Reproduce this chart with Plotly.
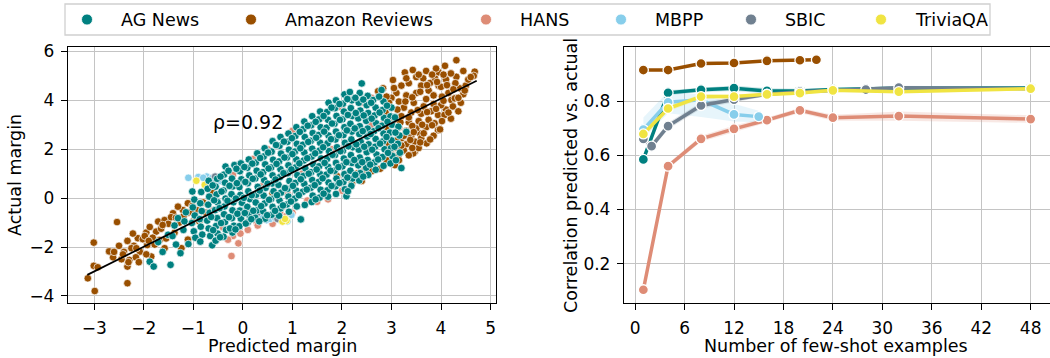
import plotly.graph_objects as go

W, H = 1050, 358

# ---------------- left panel: per-example margins ----------------
ag_news_pts = [
    (-1.02, 0.27), (-0.98, -0.06), (-1.01, -0.38), (-0.97, -0.71), (-1.03, -1.02), (-0.99, -1.36), (-0.96, -1.62),
    (-0.84, 0.25), (-0.86, -0.21), (-0.83, -0.53), (-0.87, -0.86), (-0.85, -1.17), (-0.82, -1.49), (-0.86, -1.78),
    (-0.69, 0.71), (-0.71, 0.38), (-0.68, 0.06), (-0.70, -0.27), (-0.67, -0.60), (-0.72, -0.92), (-0.69, -1.24), (-0.66, -1.55), (-0.62, -1.93),
    (-0.52, 0.79), (-0.55, 0.47), (-0.53, 0.15), (-0.51, -0.17), (-0.56, -0.49), (-0.52, -0.82), (-0.54, -1.14), (-0.51, -1.45), (-0.55, -1.74),
    (-0.35, 1.29), (-0.38, 0.96), (-0.36, 0.63), (-0.39, 0.31), (-0.35, -0.02), (-0.37, -0.34), (-0.38, -0.66), (-0.36, -0.98), (-0.34, -1.30), (-0.39, -1.58),
    (-0.17, 1.35), (-0.22, 0.80), (-0.20, 0.48), (-0.23, 0.16), (-0.19, -0.17), (-0.21, -0.50), (-0.22, -0.82), (-0.18, -1.13), (-0.21, -1.41),
    (-0.04, 1.42), (-0.06, 1.10), (-0.03, 0.77), (-0.07, 0.45), (-0.05, 0.13), (-0.02, -0.19), (-0.06, -0.51), (-0.04, -0.84), (-0.07, -1.15),
    (0.12, 1.58), (0.09, 1.24), (0.13, 0.93), (0.10, 0.61), (0.11, 0.28), (0.14, -0.04), (0.09, -0.36), (0.12, -0.68), (0.10, -0.99),
    (0.29, 1.83), (0.26, 1.45), (0.28, 1.12), (0.25, 0.80), (0.30, 0.46), (0.27, 0.14), (0.26, -0.18), (0.29, -0.50), (0.25, -0.80),
    (0.44, 2.04), (0.42, 1.70), (0.45, 1.38), (0.41, 1.06), (0.43, 0.74), (0.46, 0.42), (0.42, 0.10), (0.44, -0.22), (0.41, -0.54), (0.45, -0.84),
    (0.60, 2.33), (0.58, 1.90), (0.61, 1.57), (0.57, 1.25), (0.60, 0.93), (0.59, 0.60), (0.62, 0.28), (0.57, -0.04), (0.60, -0.36), (0.58, -0.68),
    (0.76, 2.50), (0.74, 2.14), (0.77, 1.82), (0.73, 1.50), (0.76, 1.18), (0.75, 0.86), (0.72, 0.54), (0.77, 0.22), (0.74, -0.10), (0.76, -0.42), (0.73, -0.72),
    (0.92, 2.64), (0.90, 2.30), (0.93, 1.98), (0.89, 1.66), (0.92, 1.34), (0.91, 1.02), (0.94, 0.70), (0.90, 0.38), (0.92, 0.06), (0.89, -0.26), (0.93, -0.56),
    (1.08, 2.90), (1.06, 2.54), (1.09, 2.22), (1.05, 1.90), (1.08, 1.58), (1.07, 1.26), (1.10, 0.94), (1.06, 0.62), (1.08, 0.30), (1.05, -0.02), (1.09, -0.34), (1.17, -0.87),
    (1.24, 3.13), (1.22, 2.82), (1.25, 2.50), (1.21, 2.18), (1.24, 1.86), (1.23, 1.54), (1.26, 1.22), (1.22, 0.90), (1.24, 0.58), (1.21, 0.26), (1.25, -0.28),
    (1.40, 3.35), (1.38, 2.98), (1.41, 2.66), (1.37, 2.34), (1.40, 2.02), (1.39, 1.70), (1.42, 1.38), (1.38, 1.06), (1.40, 0.74), (1.37, 0.42), (1.41, 0.10), (1.39, -0.16),
    (1.56, 3.54), (1.54, 3.22), (1.57, 2.90), (1.53, 2.58), (1.56, 2.26), (1.55, 1.94), (1.58, 1.62), (1.54, 1.30), (1.56, 0.98), (1.53, 0.66), (1.57, 0.34), (1.55, 0.02),
    (1.73, 3.90), (1.70, 3.52), (1.72, 3.20), (1.69, 2.88), (1.73, 2.56), (1.71, 2.24), (1.74, 1.92), (1.70, 1.60), (1.72, 1.28), (1.69, 0.96), (1.73, 0.64), (1.71, 0.32), (1.72, 0.06),
    (1.88, 4.00), (1.86, 3.68), (1.89, 3.36), (1.85, 3.04), (1.88, 2.72), (1.87, 2.40), (1.90, 2.08), (1.86, 1.76), (1.88, 1.44), (1.85, 1.12), (1.89, 0.80), (1.87, 0.48), (1.88, 0.17),
    (2.05, 4.24), (2.02, 3.86), (2.04, 3.54), (2.01, 3.22), (2.05, 2.90), (2.03, 2.58), (2.06, 2.26), (2.02, 1.94), (2.04, 1.62), (2.01, 1.30), (2.05, 0.98), (2.03, 0.66), (2.06, 0.36), (2.09, 0.08),
    (2.16, 4.34), (2.20, 4.00), (2.18, 3.68), (2.21, 3.36), (2.17, 3.04), (2.20, 2.72), (2.19, 2.40), (2.22, 2.08), (2.18, 1.76), (2.20, 1.44), (2.17, 1.12), (2.21, 0.80), (2.19, 0.50),
    (2.36, 4.30), (2.34, 3.90), (2.37, 3.58), (2.33, 3.26), (2.36, 2.94), (2.35, 2.62), (2.38, 2.30), (2.34, 1.98), (2.36, 1.66), (2.33, 1.34), (2.37, 1.02), (2.35, 0.72),
    (2.52, 4.18), (2.50, 3.80), (2.53, 3.48), (2.49, 3.16), (2.52, 2.84), (2.51, 2.52), (2.54, 2.20), (2.50, 1.88), (2.52, 1.56), (2.49, 1.24), (2.53, 0.95),
    (2.63, 4.01), (2.68, 3.70), (2.66, 3.38), (2.69, 3.06), (2.65, 2.74), (2.68, 2.42), (2.67, 2.10), (2.70, 1.78), (2.66, 1.46), (2.68, 1.16),
    (2.80, 4.42), (2.84, 3.95), (2.82, 3.60), (2.85, 3.28), (2.81, 2.96), (2.84, 2.64), (2.83, 2.32), (2.86, 2.00), (2.82, 1.68), (2.84, 1.32),
    (3.00, 3.70), (2.98, 3.34), (3.01, 3.00), (2.97, 2.68), (3.00, 2.36), (2.99, 2.04), (3.02, 1.72), (2.98, 1.42),
    (3.14, 2.92), (3.16, 2.56), (3.13, 2.22), (3.17, 1.86), (3.20, 1.23), (3.30, 2.71), (2.40, 4.69),
    (-1.71, -1.80), (-1.88, -2.60), (-1.80, -2.80), (-1.46, -2.73), (-1.51, -1.50), (-1.31, -0.82), (-1.20, -1.30),
    (-1.35, -1.90), (-1.15, -0.58), (-1.26, -2.25), (-1.10, -1.88), (-1.62, -2.20), (-1.42, -1.55), (-1.18, -0.95), (-1.38, -1.12),
    (-0.61, 0.52), (-0.58, -0.09), (-0.64, -0.77), (-0.60, -1.31),
    (-0.45, 0.88), (-0.43, 0.27), (-0.47, -0.41), (-0.44, -1.02), (-0.46, -1.60),
    (-0.29, 1.12), (-0.27, 0.50), (-0.31, -0.11), (-0.28, -0.78), (-0.26, -1.24),
    (-0.13, 1.20), (-0.12, 0.61), (-0.14, -0.02), (-0.11, -0.64), (-0.15, -1.28),
    (0.03, 1.27), (0.05, 0.66), (0.02, 0.01), (0.04, -0.61), (0.06, -1.04),
    (0.19, 1.41), (0.20, 0.79), (0.18, 0.12), (0.21, -0.52), (0.17, -0.86),
    (0.35, 1.64), (0.36, 0.97), (0.34, 0.31), (0.37, -0.33), (0.33, -0.95),
    (0.51, 1.86), (0.52, 1.21), (0.50, 0.59), (0.53, -0.07), (0.49, -0.70),
    (0.67, 2.17), (0.68, 1.40), (0.66, 0.76), (0.69, 0.12), (0.65, -0.52),
    (0.83, 2.31), (0.84, 1.66), (0.82, 1.02), (0.85, 0.41), (0.81, -0.30),
    (0.99, 2.45), (1.00, 1.80), (0.98, 1.17), (1.01, 0.50), (0.97, -0.14),
    (1.15, 2.71), (1.16, 2.04), (1.14, 1.42), (1.17, 0.77), (1.13, 0.12),
    (1.31, 2.96), (1.32, 2.30), (1.30, 1.63), (1.33, 1.00), (1.29, 0.35),
    (1.47, 3.12), (1.48, 2.47), (1.46, 1.83), (1.49, 1.17), (1.45, 0.53), (1.47, -0.05),
    (1.63, 3.36), (1.64, 2.72), (1.62, 2.08), (1.65, 1.44), (1.61, 0.81), (1.63, 0.18),
    (1.79, 3.70), (1.80, 3.05), (1.78, 2.41), (1.81, 1.77), (1.77, 1.12), (1.79, 0.50),
    (1.95, 3.85), (1.96, 3.20), (1.94, 2.57), (1.97, 1.92), (1.93, 1.27), (1.95, 0.62),
    (2.11, 4.05), (2.12, 3.40), (2.10, 2.77), (2.13, 2.12), (2.09, 1.47), (2.11, 0.84), (2.12, 0.28),
    (2.27, 4.10), (2.28, 3.48), (2.26, 2.85), (2.29, 2.20), (2.25, 1.56), (2.27, 0.95),
    (2.43, 4.03), (2.44, 3.38), (2.42, 2.74), (2.45, 2.10), (2.41, 1.47), (2.43, 0.88),
    (2.59, 3.90), (2.60, 3.25), (2.58, 2.62), (2.61, 1.98), (2.57, 1.37),
    (2.75, 4.15), (2.76, 3.50), (2.74, 2.86), (2.77, 2.23), (2.73, 1.58),
    (2.91, 3.78), (2.92, 3.12), (2.90, 2.50), (2.93, 1.85),
    (3.07, 3.30), (3.08, 2.68), (3.06, 2.10), (3.09, 1.55),
]

amazon_pts = [
    (-3.13, -3.28), (-3.01, -1.82), (-3.01, -2.77), (-2.93, -2.83), (-2.99, -3.80), (-2.54, -0.98), (-2.62, -2.42),
    (-2.70, -2.18), (-2.33, -1.75), (-2.33, -3.48), (-2.40, -2.20), (-2.29, -2.53), (-2.33, -2.80), (-2.31, -2.62),
    (-2.12, -1.64), (-2.08, -2.19), (-2.20, -1.95), (-2.16, -2.42), (-1.95, -1.41), (-1.93, -1.92), (-2.02, -1.68),
    (-1.75, -1.37), (-1.71, -0.96), (-1.58, -0.90), (-1.41, -0.62), (-1.21, -0.49), (-1.31, -0.35), (-1.11, -0.21),
    (-1.11, -0.60), (-1.85, -2.39), (-1.58, -2.05), (-1.24, -2.05), (-1.11, -1.70), (-1.82, -1.62), (-1.88, -1.18),
    (-1.65, -1.25), (-1.50, -1.05), (-1.38, -1.42), (-1.28, -1.00), (-1.02, -0.32), (-0.92, -0.50), (-0.80, -0.18),
    (-2.45, -2.50), (-2.10, -2.62), (-1.95, -2.30), (-1.68, -1.72), (-1.45, -0.78), (-2.50, -1.95), (-2.22, -1.45),
    (-1.00, -0.95), (-0.88, -0.95), (-0.75, -0.60),
    (-2.60, -2.20), (-2.25, -2.05), (-1.98, -1.55), (-1.78, -1.90), (-1.55, -1.65), (-1.35, -0.80), (-1.20, -0.75),
    (-1.05, -0.55), (-2.15, -2.05), (-1.90, -1.75), (-1.62, -1.10), (-2.42, -2.30),
    (-0.60, 0.21), (0.15, -0.50), (0.60, 0.20), (1.60, 0.30), (2.30, 1.00), (2.46, 1.15), (2.40, 0.70),
    (2.20, 0.60), (1.90, 0.90), (2.60, 1.10),
    (4.31, 5.64), (4.68, 5.17), (4.66, 5.00), (4.08, 5.41), (3.43, 5.24), (3.27, 5.14), (3.03, 4.83), (3.64, 4.90),
    (3.78, 4.71), (3.88, 4.90), (4.31, 4.96), (4.38, 4.49), (4.29, 4.70), (2.83, 4.49), (2.73, 4.37), (4.21, 4.01),
    (4.24, 3.75), (4.10, 3.62), (3.94, 3.40), (3.87, 3.06), (3.94, 2.78), (3.57, 2.65), (3.71, 2.24), (3.47, 2.31),
    (3.47, 1.90), (3.14, 1.76), (3.07, 1.49), (3.44, 1.83), (3.07, 1.35), (2.40, 1.01), (2.77, 1.20), (3.98, 2.81),
    (4.07, 3.40), (4.28, 4.08), (3.50, 4.95), (3.35, 4.70), (3.20, 4.60), (3.10, 4.30), (3.60, 4.60), (3.75, 4.40),
    (3.95, 4.60), (4.10, 4.85), (4.15, 4.30), (4.02, 4.15), (3.85, 4.20), (3.70, 4.05), (3.50, 4.30), (3.30, 4.20),
    (3.15, 3.95), (3.00, 4.10), (2.95, 3.90), (3.25, 3.70), (3.45, 3.90), (3.65, 3.75), (3.85, 3.85), (4.00, 3.80),
    (3.80, 3.55), (3.60, 3.45), (3.40, 3.50), (3.20, 3.35), (3.05, 3.20), (3.15, 2.90), (3.35, 3.10), (3.55, 3.15),
    (3.75, 3.20), (3.70, 2.90), (3.50, 2.85), (3.30, 2.75), (3.20, 2.45), (3.40, 2.55), (3.60, 2.45), (3.30, 2.20),
    (3.10, 2.05), (3.25, 1.95), (3.55, 2.05), (3.85, 2.55), (4.20, 3.25), (4.35, 3.55), (4.40, 3.90), (4.45, 4.25),
    (4.50, 4.60), (4.55, 4.85), (4.20, 5.10), (3.95, 5.15), (3.70, 5.20), (3.90, 5.30), (4.00, 4.55), (4.45, 5.20),
    (3.35, 1.75), (3.00, 1.65), (2.90, 1.55), (2.95, 2.20), (2.90, 2.90), (2.88, 3.50), (2.90, 4.15),
    (3.12, 3.62), (3.28, 3.95), (3.42, 4.12), (3.58, 4.35), (3.72, 4.62), (3.92, 4.75), (4.12, 4.62), (4.25, 4.45),
    (4.05, 3.98), (3.90, 3.65), (3.72, 3.52), (3.53, 3.60), (3.35, 3.30), (3.18, 3.10), (3.42, 2.95), (3.62, 3.00),
    (3.82, 2.98), (4.02, 3.15), (4.15, 3.50), (3.65, 2.65), (3.45, 2.70), (3.25, 2.55), (3.10, 2.35), (3.38, 2.38),
    (3.58, 2.28), (3.78, 2.40), (3.20, 2.15), (3.42, 2.05), (2.98, 1.85), (3.15, 1.55), (4.35, 4.10), (4.48, 4.40),
    (4.60, 4.95), (3.05, 4.50), (3.30, 4.90), (3.55, 5.05), (3.82, 5.05), (4.05, 5.05),
]

hans_pts = [
    (-0.23, -2.37), (-0.09, -1.85), (-0.20, -1.55), (1.72, -0.05), (1.50, -0.15), (0.28, -1.00), (1.00, -0.60),
    (0.00, -0.95), (-0.20, 0.94), (-0.45, 0.72), (-0.70, 0.45), (-0.10, 1.30), (0.50, 2.00), (1.00, 2.75),
    (1.60, 3.30), (2.00, 3.70), (-0.40, -1.20), (0.50, -0.70), (0.80, -0.35), (1.30, -0.10), (2.00, 0.30),
    (0.30, -1.12), (-0.30, -1.70), (0.60, -1.05), (1.40, 3.00), (0.20, 1.60), (2.40, 3.90), (2.60, 3.00),
    (1.20, 1.00), (0.40, 0.50), (-0.60, -0.50), (1.80, 2.00), (0.90, 0.20), (1.50, 1.20), (2.50, 2.00),
    (2.80, 3.00), (2.60, 4.10), (0.85, -0.75), (0.10, -1.30), (-0.05, -1.45), (0.34, -0.76), (0.75, -0.60),
]

mbpp_pts = [
    (-1.10, 0.83), (-0.90, 0.86), (-0.73, 0.88), (-0.52, 0.84), (-0.62, 0.82), (-0.80, 0.83), (0.48, -0.90),
    (0.55, -0.85), (0.75, -0.90), (0.98, -0.69), (0.65, -0.80), (0.90, -0.95), (-0.45, 0.70), (0.40, -0.75),
]

sbic_pts = [(-0.56, 0.88), (-0.60, 0.54), (0.70, -0.85), (0.30, -0.60)]

triviaqa_pts = [(-0.94, 0.71), (-0.77, 0.54), (0.88, -0.92), (0.80, -0.96), (0.85, -0.85)]

# least-squares fit line and its correlation
fit_x = [-3.14, 4.72]
fit_y = [-3.14, 4.80]
rho_label = "ρ=0.92"

# ---------------- right panel: correlation vs. number of shots ----------------
ag_shots = [1, 4, 8, 12, 16, 20, 24, 32, 48]
ag_corr = [0.585, 0.831, 0.842, 0.848, 0.838, 0.838, 0.843, 0.848, 0.849]
ag_lo = [0.570, 0.822, 0.834, 0.838, 0.828, 0.830, 0.836, 0.840, 0.842]
ag_hi = [0.600, 0.840, 0.850, 0.858, 0.848, 0.846, 0.850, 0.855, 0.856]

amazon_shots = [1, 4, 8, 12, 16, 20, 22]
amazon_corr = [0.915, 0.915, 0.939, 0.941, 0.949, 0.951, 0.953]
amazon_lo = [0.911, 0.910, 0.935, 0.937, 0.945, 0.947, 0.949]
amazon_hi = [0.919, 0.920, 0.943, 0.945, 0.953, 0.955, 0.957]

hans_shots = [1, 4, 8, 12, 16, 20, 24, 32, 48]
hans_corr = [0.104, 0.560, 0.661, 0.698, 0.730, 0.766, 0.739, 0.745, 0.734]
hans_lo = [0.098, 0.550, 0.650, 0.686, 0.720, 0.756, 0.728, 0.728, 0.720]
hans_hi = [0.110, 0.570, 0.672, 0.710, 0.740, 0.776, 0.750, 0.762, 0.748]

mbpp_shots = [1, 4, 8, 12, 15]
mbpp_corr = [0.695, 0.796, 0.805, 0.751, 0.743]
mbpp_lo = [0.665, 0.755, 0.742, 0.725, 0.722]
mbpp_hi = [0.740, 0.835, 0.825, 0.790, 0.765]

sbic_shots = [1, 2, 4, 8, 12, 16, 20, 24, 28, 32, 48]
sbic_corr = [0.661, 0.634, 0.708, 0.784, 0.806, 0.826, 0.835, 0.840, 0.843, 0.850, 0.846]
sbic_lo = [0.648, 0.622, 0.696, 0.772, 0.796, 0.818, 0.828, 0.833, 0.836, 0.843, 0.839]
sbic_hi = [0.674, 0.646, 0.720, 0.796, 0.816, 0.834, 0.842, 0.847, 0.850, 0.857, 0.853]

tqa_shots = [1, 4, 8, 12, 16, 20, 24, 32, 48]
tqa_corr = [0.679, 0.773, 0.817, 0.817, 0.825, 0.830, 0.840, 0.835, 0.846]
tqa_lo = [0.666, 0.762, 0.808, 0.809, 0.818, 0.824, 0.834, 0.829, 0.840]
tqa_hi = [0.692, 0.784, 0.826, 0.825, 0.832, 0.836, 0.846, 0.841, 0.852]

dataset_names = ["AG News", "Amazon Reviews", "HANS", "MBPP", "SBIC", "TriviaQA"]
palette = ["#008080", "#994F00", "#DE8C76", "#87CEEB", "#708090", "#F0E442"]
color = dict(zip(dataset_names, palette))

FONT = "DejaVu Sans"


def px_x(p):
    return p / W


def px_y(p):
    return 1 - p / H


def rgba(hex_color, a):
    h = hex_color.lstrip("#")
    r, g, b = int(h[0:2], 16), int(h[2:4], 16), int(h[4:6], 16)
    return f"rgba({r},{g},{b},{a})"


fig = go.Figure()

# scatter clouds (AG News drawn last so it sits on top)
scatter_order = [
    ("Amazon Reviews", amazon_pts),
    ("HANS", hans_pts),
    ("MBPP", mbpp_pts),
    ("SBIC", sbic_pts),
    ("TriviaQA", triviaqa_pts),
    ("AG News", ag_news_pts),
]
for name, pts in scatter_order:
    xs = [p[0] for p in pts]
    ys = [p[1] for p in pts]
    fig.add_trace(go.Scatter(
        x=xs, y=ys, mode="markers", name=name, showlegend=False,
        marker=dict(size=7.6, color=color[name], line=dict(color="white", width=0.7)),
        xaxis="x", yaxis="y",
    ))

fig.add_trace(go.Scatter(
    x=fit_x, y=fit_y, mode="lines", showlegend=False,
    line=dict(color="black", width=1.7), xaxis="x", yaxis="y",
))

# right panel: confidence bands then lines
series = [
    ("AG News", ag_shots, ag_corr, ag_lo, ag_hi),
    ("Amazon Reviews", amazon_shots, amazon_corr, amazon_lo, amazon_hi),
    ("HANS", hans_shots, hans_corr, hans_lo, hans_hi),
    ("MBPP", mbpp_shots, mbpp_corr, mbpp_lo, mbpp_hi),
    ("SBIC", sbic_shots, sbic_corr, sbic_lo, sbic_hi),
    ("TriviaQA", tqa_shots, tqa_corr, tqa_lo, tqa_hi),
]
for name, xs, ys, lo, hi in series:
    fig.add_trace(go.Scatter(
        x=xs, y=hi, mode="lines", line=dict(width=0), showlegend=False,
        hoverinfo="skip", xaxis="x2", yaxis="y2",
    ))
    fig.add_trace(go.Scatter(
        x=xs, y=lo, mode="lines", line=dict(width=0), fill="tonexty",
        fillcolor=rgba(color[name], 0.2), showlegend=False,
        hoverinfo="skip", xaxis="x2", yaxis="y2",
    ))
for name, xs, ys, lo, hi in series:
    fig.add_trace(go.Scatter(
        x=xs, y=ys, mode="lines+markers", name=name, showlegend=False,
        line=dict(color=color[name], width=3.5),
        marker=dict(size=10, color=color[name], line=dict(color="white", width=1.3)),
        xaxis="x2", yaxis="y2",
    ))

axis_common = dict(
    showline=True, mirror=True, linecolor="black", linewidth=1.3,
    showgrid=True, gridcolor="#c4c4c4", gridwidth=1.2,
    ticks="outside", ticklen=6, tickwidth=1.3, tickcolor="black",
    zeroline=False, tickfont=dict(family=FONT, size=17, color="black"),
    automargin=False, ticklabelstandoff=3,
)

y_dom = [px_y(303), px_y(47)]
fig.update_layout(
    width=W, height=H,
    margin=dict(l=0, r=0, t=0, b=0),
    paper_bgcolor="white", plot_bgcolor="white",
    showlegend=False,
    font=dict(family=FONT, size=17, color="black"),
    xaxis=dict(domain=[px_x(68), px_x(496)], range=[-3.53, 5.11],
               tickvals=[-3, -2, -1, 0, 1, 2, 3, 4, 5], anchor="y", **axis_common),
    yaxis=dict(domain=y_dom, range=[-4.29, 6.18],
               tickvals=[-4, -2, 0, 2, 4, 6], anchor="x", **axis_common),
    xaxis2=dict(domain=[px_x(624), 1.0], range=[-1.35, 50.35],
                tickvals=[0, 6, 12, 18, 24, 30, 36, 42, 48], anchor="y2", **axis_common),
    yaxis2=dict(domain=y_dom, range=[0.055, 1.0],
                tickvals=[0.2, 0.4, 0.6, 0.8], tickformat=".1f", anchor="x2", **axis_common),
)

annotations = [
    dict(x=-0.65, y=3.12, xref="x", yref="y", text=rho_label, showarrow=False,
         xanchor="left", yanchor="middle", font=dict(family=FONT, size=19, color="black")),
    dict(x=px_x(282), y=px_y(346), xref="paper", yref="paper", text="Predicted margin",
         showarrow=False, xanchor="center", yanchor="middle", font=dict(family=FONT, size=17.5)),
    dict(x=px_x(836), y=px_y(346), xref="paper", yref="paper", text="Number of few-shot examples",
         showarrow=False, xanchor="center", yanchor="middle", font=dict(family=FONT, size=17.5)),
    dict(x=px_x(15), y=px_y(175), xref="paper", yref="paper", text="Actual margin", textangle=-90,
         showarrow=False, xanchor="center", yanchor="middle", font=dict(family=FONT, size=17.5)),
    dict(x=px_x(571), y=px_y(176), xref="paper", yref="paper", text="Correlation predicted vs. actual",
         textangle=-90, showarrow=False, xanchor="center", yanchor="middle",
         font=dict(family=FONT, size=17.5)),
]

# legend box across the top
shapes = [
    dict(type="rect", xref="paper", yref="paper", x0=px_x(65), x1=px_x(990),
         y0=px_y(35), y1=px_y(4), line=dict(color="#d0d0d0", width=1.3), fillcolor="white",
         layer="above"),
]
legend_marker_px = [87, 251, 486, 621, 751, 881]
legend_y = 19.5
for name, cx in zip(dataset_names, legend_marker_px):
    shapes.append(dict(
        type="circle", xref="paper", yref="paper", xsizemode="pixel", ysizemode="pixel",
        xanchor=px_x(cx), yanchor=px_y(legend_y), x0=-5.5, x1=5.5, y0=-5.5, y1=5.5,
        fillcolor=color[name], line=dict(color="white", width=0.8), layer="above",
    ))
    annotations.append(dict(
        x=px_x(cx + 32), y=px_y(legend_y), xref="paper", yref="paper", text=name,
        showarrow=False, xanchor="left", yanchor="middle", font=dict(family=FONT, size=17.5),
    ))

fig.update_layout(annotations=annotations, shapes=shapes)

fig.write_html("out.html")
